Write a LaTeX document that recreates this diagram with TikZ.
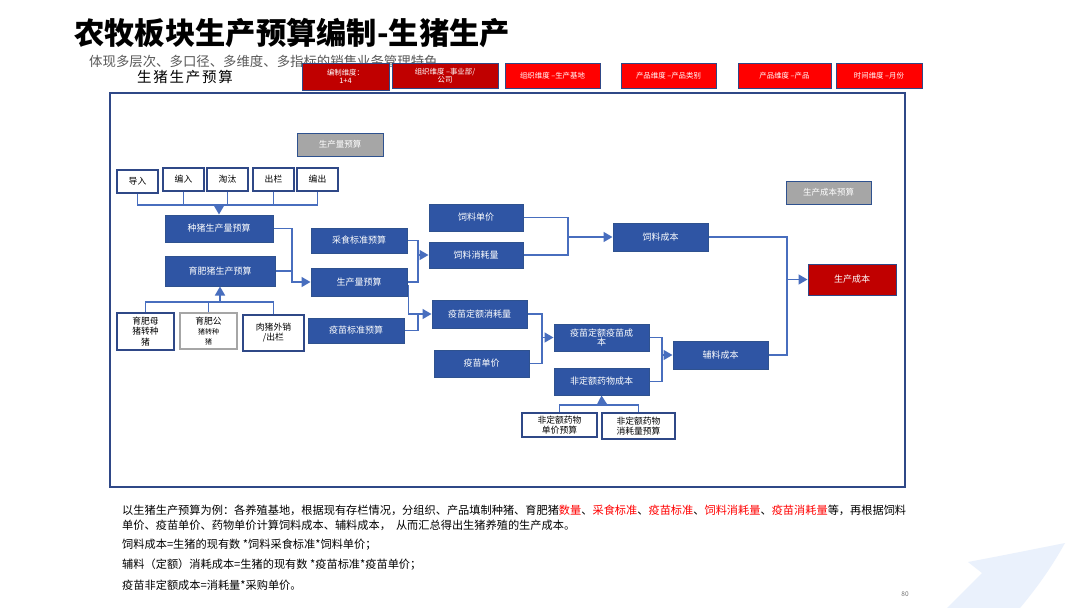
\documentclass[tikz,border=0pt]{standalone}
\usepackage{fontspec}
\setmainfont{Noto Sans CJK SC}
\usetikzlibrary{arrows.meta}
\definecolor{bfill}{RGB}{47,85,164}
\definecolor{bline}{RGB}{47,82,143}
\definecolor{lc}{RGB}{72,110,190}
\definecolor{dred}{RGB}{192,0,0}
\definecolor{bred}{RGB}{255,0,0}
\definecolor{gfill}{RGB}{166,166,166}
\definecolor{frm}{RGB}{47,72,135}
\definecolor{swoosh}{RGB}{234,241,252}
\begin{document}
\begin{tikzpicture}[x=1pt,y=-1pt,
  box/.style={draw=bline, line width=1pt, inner sep=1pt, align=center},
  bluebox/.style={box, fill=bfill, text=white, font=\fontsize{9}{10.5}\selectfont},
  whitebox/.style={box, draw=frm, line width=1.2pt, fill=white, text=black, font=\fontsize{8.8}{10}\selectfont},
  graybox/.style={box, fill=gfill, text=white, font=\fontsize{8.5}{9.5}\selectfont},
  redbox/.style={box, draw=frm, line width=1pt, text=white, font=\fontsize{7.4}{8.4}\selectfont},
  conn/.style={draw=lc, line width=1.5pt},
  arr/.style={conn, -{Triangle[length=9pt,width=10pt]}},
  txt/.style={anchor=west, inner sep=0pt, font=\fontsize{11.2}{12}\selectfont}
]
\useasboundingbox (0,0) rectangle (1080,608);
\fill[white] (0,0) rectangle (1080,608);

% decorative swoosh
\fill[swoosh] (968,562) .. controls (1000,556) and (1040,548) .. (1065,543)
  .. controls (1050,570) and (1035,590) .. (1020,608) -- (947,608)
  .. controls (960,595) and (972,583) .. (982,573) -- cycle;

% titles
\node[anchor=west, inner sep=0pt, font=\fontsize{30.3}{33}\selectfont\bfseries] (title) at (74,33) {农牧板块生产预算编制-生猪生产};
\node[anchor=west, inner sep=0pt, text=black!65, font=\fontsize{13.4}{15}\selectfont] (sub) at (89,61) {体现多层次、多口径、多维度、多指标的销售业务管理特色};
\node[anchor=center, inner sep=0pt, font=\fontsize{14.5}{16}\selectfont\addfontfeature{LetterSpace=12}] (sec) at (185,77) {生猪生产预算};

% dimension boxes
\node[redbox, fill=dred, minimum width=87, minimum height=27] (d1) at (345.5,76.5) {编制维度：\\1+4};
\node[redbox, fill=dred, minimum width=106, minimum height=25] (d2) at (445,75.5) {组织维度 –事业部/\\公司};
\node[redbox, fill=bred, minimum width=95, minimum height=25] (d3) at (552.5,75.5) {组织维度 –生产基地};
\node[redbox, fill=bred, minimum width=95, minimum height=25] (d4) at (668.5,75.5) {产品维度 –产品类别};
\node[redbox, fill=bred, minimum width=93, minimum height=25] (d5) at (784.5,75.5) {产品维度 –产品};
\node[redbox, fill=bred, minimum width=86, minimum height=25] (d6) at (879,75.5) {时间维度 –月份};

% frame
\draw[frm, line width=1.3pt] (110,93) rectangle (905,487);

% gray headings
\node[graybox, minimum width=86, minimum height=23] (g1) at (340,144.5) {生产量预算};
\node[graybox, minimum width=85, minimum height=23] (g2) at (828.5,192.5) {生产成本预算};

% top white boxes
\node[whitebox, minimum width=41, minimum height=23] (dr) at (137.5,181.5) {导入};
\node[whitebox, minimum width=41, minimum height=23] (br) at (183.5,179.5) {编入};
\node[whitebox, minimum width=41, minimum height=23] (tt) at (227.5,179.5) {淘汰};
\node[whitebox, minimum width=41, minimum height=23] (cl) at (273.5,179.5) {出栏};
\node[whitebox, minimum width=41, minimum height=23] (bc) at (317.5,179.5) {编出};

% blue boxes
\node[bluebox, minimum width=108, minimum height=27] (zz) at (219,228.5) {种猪生产量预算};
\node[bluebox, minimum width=110, minimum height=30] (yf) at (220,271) {育肥猪生产预算};
\node[bluebox, minimum width=96, minimum height=25] (cs) at (359,240.5) {采食标准预算};
\node[bluebox, minimum width=96, minimum height=28] (scl) at (359,282) {生产量预算};
\node[bluebox, minimum width=96, minimum height=25] (ybz) at (356,330.5) {疫苗标准预算};
\node[bluebox, minimum width=94, minimum height=27] (sdj) at (476,217.5) {饲料单价};
\node[bluebox, minimum width=94, minimum height=26] (slx) at (476,255) {饲料消耗量};
\node[bluebox, minimum width=95, minimum height=28] (slcb) at (660.5,237) {饲料成本};
\node[bluebox, minimum width=95, minimum height=28] (ymx) at (479.5,314) {疫苗定额消耗量};
\node[bluebox, minimum width=95, minimum height=27] (ydj) at (481.5,363.5) {疫苗单价};
\node[bluebox, minimum width=95, minimum height=27, font=\fontsize{9}{9.5}\selectfont] (ydcb) at (601.5,337.5) {疫苗定额疫苗成\\本};
\node[bluebox, minimum width=95, minimum height=27] (fdcb) at (601.5,381.5) {非定额药物成本};
\node[bluebox, minimum width=95, minimum height=28] (flcb) at (720.5,355) {辅料成本};
\node[box, fill=dred, draw=frm, text=white, font=\fontsize{9}{10}\selectfont, minimum width=88, minimum height=31] (sccb) at (852,279.5) {生产成本};

% bottom white boxes
\node[whitebox, minimum width=57, minimum height=37, font=\fontsize{8.8}{10.5}\selectfont] (ym) at (145.5,331.5) {育肥母\\猪转种\\猪};
\node[whitebox, draw=black!35, minimum width=57, minimum height=36, font=\fontsize{8.8}{10}\selectfont] (yg) at (208.5,331) {育肥公\\{\fontsize{7}{9}\selectfont 猪转种}\\{\fontsize{7}{9}\selectfont 猪}};
\node[whitebox, minimum width=61, minimum height=36] (rz) at (273.5,333) {肉猪外销\\/出栏};
\node[whitebox, minimum width=75, minimum height=24] (fdj) at (559.5,425) {非定额药物\\单价预算};
\node[whitebox, minimum width=73, minimum height=26] (fxh) at (638.5,426) {非定额药物\\消耗量预算};

% bus coordinates
\coordinate (busT) at (219,205);
\coordinate (busB) at (220,302);
\coordinate (busF) at (602,405);
\coordinate (j1) at (292,282);
\coordinate (j2) at (418,255);
\coordinate (j3) at (418,314);
\coordinate (j4) at (568,237);
\coordinate (j5) at (542,337.5);
\coordinate (j6) at (662,355);
\coordinate (j7) at (787,279.5);

% top bus
\draw[conn] (dr.south) |- (bc.south |- busT) -- (bc.south);
\draw[conn] (br.south) -- (br.south |- busT);
\draw[conn] (tt.south) -- (tt.south |- busT);
\draw[conn] (cl.south) -- (cl.south |- busT);
\draw[arr] (busT) -- (zz.north);

% bottom bus
\draw[conn] (ym.north) |- (rz.north |- busB) -- (rz.north);
\draw[conn] (yg.north) -- (yg.north |- busB);
\draw[arr] (busB) -- (yf.south);

% non-quota bus
\draw[conn] (fdj.north) |- (fxh.north |- busF) -- (fxh.north);
\draw[arr] (busF) -- (fdcb.south);

% connector 1
\draw[arr] (zz.east) -| (j1) -- (scl.west);
\draw[conn] (yf.east) -- (yf.east -| j1);

% connector 2
\draw[arr] (cs.east) -| (j2) -- (slx.west);
\draw[conn] (scl.east) -| (j2);

% connector 3
\draw[arr] ([xshift=1pt,yshift=-3pt]scl.east) |- (ymx.west);
\draw[conn] (ybz.east) -| (j3);

% connector 4
\draw[conn] (sdj.east) -| (j4);
\draw[conn] (slx.east) -| (j4);
\draw[arr] (j4) -- (slcb.west);

% connector 5
\draw[conn] (ymx.east) -| (j5);
\draw[conn] (ydj.east) -| (j5);
\draw[arr] (j5) -- (ydcb.west);

% connector 6
\draw[conn] (ydcb.east) -| (j6);
\draw[conn] (fdcb.east) -| (j6);
\draw[arr] (j6) -- (flcb.west);

% connector 7
\draw[conn] (slcb.east) -| (j7);
\draw[conn] (flcb.east) -| (j7);
\draw[arr] (j7) -- (sccb.west);

% description text
\node[txt] (t1) at (122,510) {以生猪生产预算为例：各养殖基地，根据现有存栏情况，分组织、产品填制种猪、育肥猪\textcolor{bred}{数量}、\textcolor{bred}{采食标准}、\textcolor{bred}{疫苗标准}、\textcolor{bred}{饲料消耗量}、\textcolor{bred}{疫苗消耗量}等，再根据饲料};
\node[txt] (t2) at (122,525) {单价、疫苗单价、药物单价计算饲料成本、辅料成本，\ \ 从而汇总得出生猪养殖的生产成本。};
\node[txt] (t3) at (122,545) {饲料成本=生猪的现有数 *饲料采食标准*饲料单价；};
\node[txt] (t4) at (122,565) {辅料（定额）消耗成本=生猪的现有数 *疫苗标准*疫苗单价；};
\node[txt] (t5) at (122,585) {疫苗非定额成本=消耗量*采购单价。};
\node[inner sep=0pt, text=black!55, font=\fontsize{6.5}{7}\selectfont] (pg) at (905,594) {80};
\end{tikzpicture}
\end{document}
